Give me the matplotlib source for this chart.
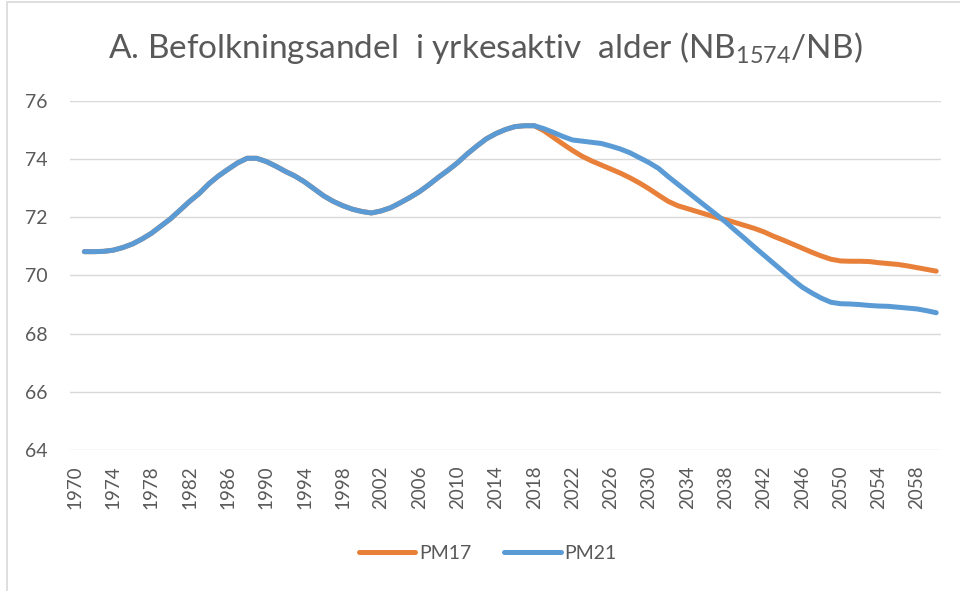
import matplotlib
matplotlib.use("Agg")
import matplotlib.pyplot as plt
from matplotlib.patches import Rectangle

plt.rcParams['font.family'] = ['Lato', 'DejaVu Sans']
plt.rcParams['mathtext.fontset'] = 'custom'
plt.rcParams['mathtext.rm'] = 'Lato'

years = list(range(1971, 2061))

# PM21 (blue)
pm21 = [70.82, 70.82, 70.83, 70.87, 70.96, 71.08, 71.25, 71.45, 71.70, 71.95,
        72.25, 72.55, 72.82, 73.15, 73.42, 73.65, 73.87, 74.03, 74.03, 73.92,
        73.76, 73.58, 73.42, 73.22, 72.98, 72.74, 72.55, 72.40, 72.28, 72.20,
        72.15, 72.22, 72.33, 72.50, 72.68, 72.88, 73.12, 73.38, 73.62, 73.88,
        74.18, 74.45, 74.70, 74.88, 75.02, 75.12, 75.15, 75.15, 75.05, 74.92,
        74.78, 74.66, 74.62, 74.58, 74.54, 74.45, 74.35, 74.22, 74.05, 73.88,
        73.68, 73.40, 73.14, 72.88, 72.62, 72.36, 72.10, 71.84, 71.55, 71.27,
        70.98, 70.70, 70.42, 70.14, 69.86, 69.60, 69.40, 69.22, 69.08, 69.03,
        69.02, 69.00, 68.97, 68.95, 68.94, 68.91, 68.88, 68.85, 68.79, 68.72]

# PM17 (orange)
pm17 = [70.82, 70.82, 70.83, 70.87, 70.96, 71.08, 71.25, 71.45, 71.70, 71.95,
        72.25, 72.55, 72.82, 73.15, 73.42, 73.65, 73.87, 74.03, 74.03, 73.92,
        73.76, 73.58, 73.42, 73.22, 72.98, 72.74, 72.55, 72.40, 72.28, 72.20,
        72.15, 72.22, 72.33, 72.50, 72.68, 72.88, 73.12, 73.38, 73.62, 73.88,
        74.18, 74.45, 74.70, 74.88, 75.02, 75.12, 75.15, 75.15, 74.98, 74.75,
        74.52, 74.30, 74.10, 73.94, 73.80, 73.66, 73.52, 73.36, 73.18, 72.98,
        72.76, 72.55, 72.40, 72.30, 72.20, 72.10, 72.00, 71.92, 71.82, 71.72,
        71.62, 71.50, 71.35, 71.22, 71.08, 70.94, 70.80, 70.67, 70.56, 70.50,
        70.49, 70.49, 70.48, 70.44, 70.41, 70.38, 70.33, 70.27, 70.21, 70.15]

yticks = [64, 66, 68, 70, 72, 74, 76]
xticks = list(range(1970, 2059, 4))

grey = '#595959'

fig = plt.figure(figsize=(9.6, 5.91), dpi=100)
# chart border like excel
fig.patches.append(Rectangle((7 / 960, -0.1), 1.2, 1 - 2 / 591 + 0.1, transform=fig.transFigure,
                             fill=False, edgecolor='#d9d9d9', linewidth=1.2))

ax = fig.add_axes([70 / 960, 1 - 450 / 591, (941 - 70) / 960, (450 - 101) / 591])

ax.plot(years, pm17, color='#E8803A', linewidth=3.6, solid_capstyle='round', label='PM17')
ax.plot(years, pm21, color='#5B9BD5', linewidth=3.6, solid_capstyle='round', label='PM21')

ax.set_xlim(1969.5, 2060.5)
ax.set_ylim(64, 76)
ax.set_yticks(yticks)
ax.set_xticks(xticks)
ax.set_xticklabels([str(x) for x in xticks], rotation=90)
ax.tick_params(axis='y', length=0, pad=16, labelsize=14, labelcolor=grey)
ax.tick_params(axis='x', length=0, pad=11, labelsize=13.5, labelcolor=grey)
ax.grid(axis='y', color='#d9d9d9', linewidth=1)
ax.set_axisbelow(True)
for s in ax.spines.values():
    s.set_visible(False)

fig.text(0.506, 0.919, 'A. Befolkningsandel  i yrkesaktiv  alder (NB$_{\\mathregular{1574}}$/NB)',
         ha='center', va='center', fontsize=24, color=grey)

fig.legend(loc='center', bbox_to_anchor=(0.508, 0.064), ncol=2, frameon=False,
           fontsize=14, labelcolor=grey, handlelength=2.9, handletextpad=0.2, columnspacing=1.7)

fig.savefig('out.png', dpi=100)
